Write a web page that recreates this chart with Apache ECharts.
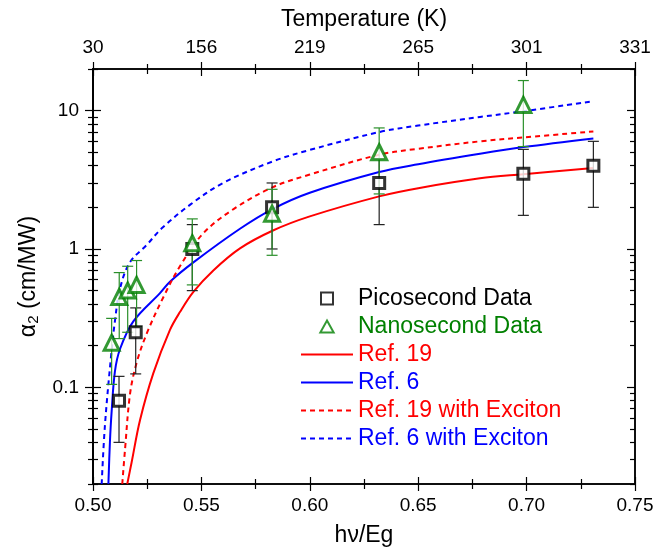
<!DOCTYPE html>
<html>
<head>
<meta charset="utf-8">
<script src="https://cdn.jsdelivr.net/npm/echarts@6/dist/echarts.min.js"></script>
<style>html,body{margin:0;padding:0;background:#fff}#c{width:668px;height:552px}</style>
</head>
<body>
<div id="c"></div>
<script>
// ---- data ----
const xTickLabels = ['0.50','0.55','0.60','0.65','0.70','0.75'];
const tempLabels = ['30','156','219','265','301','331'];
const yMajorTicks = [0.1, 1, 10];
const yMinorTicks = [0.02,0.03,0.04,0.05,0.06,0.07,0.08,0.09,0.2,0.3,0.4,0.5,0.6,0.7,0.8,0.9,2,3,4,5,6,7,8,9,20];

const psX  = [0.512, 0.5197, 0.5458, 0.5826, 0.632, 0.6985, 0.7308];
const psY  = [0.08, 0.25, 1.0, 2.0, 3.0, 3.5, 4.0];
const psLo = [0.04, 0.125, 0.5, 1.0, 1.5, 1.75, 2.0];
const psHi = [0.12, 0.375, 1.5, 3.0, 4.5, 5.25, 6.0];

const nsX  = [0.5086, 0.5121, 0.516, 0.5201, 0.5458, 0.5826, 0.632, 0.6985];
const nsY  = [0.21, 0.45, 0.5, 0.55, 1.1, 1.8, 5.0, 11];
const nsLo = [0.105, 0.225, 0.25, 0.275, 0.55, 0.9, 2.5, 5.5];
const nsHi = [0.315, 0.675, 0.75, 0.825, 1.65, 2.7, 7.5, 16.5];

const ref19 = [[0.5158,0.02],[0.5178,0.0286],[0.5217,0.058],[0.5278,0.126],[0.5355,0.26],[0.5401,0.35],[0.5463,0.49],[0.5555,0.70],[0.5678,1.01],[0.583,1.36],[0.60,1.72],[0.632,2.4],[0.65,2.75],[0.6785,3.24],[0.6985,3.47],[0.7308,3.85]];
const ref6 = [[0.5071,0.02],[0.5078,0.04],[0.5086,0.067],[0.5101,0.13],[0.5125,0.19],[0.5186,0.30],[0.5309,0.48],[0.5355,0.58],[0.5463,0.80],[0.5678,1.4],[0.583,1.95],[0.60,2.55],[0.632,3.6],[0.65,4.1],[0.6785,4.88],[0.6985,5.45],[0.7308,6.3]];
const ref19Exc = [[0.5135,0.02],[0.5148,0.036],[0.5171,0.09],[0.5201,0.15],[0.5248,0.245],[0.5325,0.45],[0.5401,0.75],[0.5509,1.3],[0.565,1.95],[0.583,2.8],[0.60,3.45],[0.632,4.8],[0.65,5.3],[0.6785,6.0],[0.6985,6.4],[0.7308,7.07]];
const ref6Exc = [[0.504,0.02],[0.5055,0.053],[0.5082,0.16],[0.5101,0.30],[0.5125,0.52],[0.517,0.8],[0.5248,1.07],[0.5317,1.41],[0.545,2.1],[0.56,3.0],[0.583,4.3],[0.60,5.2],[0.632,7.0],[0.65,7.8],[0.6785,9.0],[0.6985,9.9],[0.7308,11.7]];

// ---- chart ----
const FONT = "'Liberation Sans', Arial, sans-serif";
const chart = echarts.init(document.getElementById('c'));

function xAx(pos, inside, labels, name) {
  return {
    type: 'value', position: pos, min: 0.5, max: 0.75, interval: 0.05,
    splitLine: {show: false},
    axisLine: {show: true, onZero: false, lineStyle: {color: '#000', width: 1.5}},
    axisTick: {show: true, inside: inside, length: 7, lineStyle: {color: '#000', width: 1.2}},
    minorTick: {show: true, splitNumber: 2, length: 5, lineStyle: {color: '#000', width: 1.2}},
    minorSplitLine: {show: false},
    axisLabel: labels ? {show: true, margin: 12, fontSize: 19, color: '#000', fontFamily: FONT,
      formatter: v => labels[Math.round((v - 0.5) / 0.05)]} : {show: false},
    name: name || '', nameLocation: 'middle', nameGap: pos === 'bottom' ? 40 : 38,
    nameTextStyle: {fontSize: 23, color: '#000', fontFamily: FONT}
  };
}
function yAx(pos, inside, ticks, len, labels, name) {
  return {
    type: 'log', logBase: 10, position: pos, min: 0.02, max: 20,
    splitLine: {show: false},
    axisLine: {show: true, onZero: false, lineStyle: {color: '#000', width: 1.5}},
    axisTick: {show: true, inside: inside, length: len, customValues: ticks, lineStyle: {color: '#000', width: 1.2}},
    minorTick: {show: false},
    axisLabel: labels ? {show: true, margin: 14, fontSize: 19, color: '#000', fontFamily: FONT,
      customValues: labels, formatter: v => String(v)} : {show: false},
    name: name || '', nameLocation: 'middle', nameGap: 50,
    nameTextStyle: {color: '#000', fontFamily: FONT, rich: {
      a: {fontSize: 23, fontFamily: FONT, color: '#000'},
      b: {fontSize: 15, fontFamily: FONT, color: '#000', verticalAlign: 'bottom', padding: [12, 0, 0, 0]}
    }}
  };
}

const errRender = (color) => function (params, api) {
  const x = api.value(0), lo = api.value(1), hi = api.value(2);
  const pTop = api.coord([x, hi]);
  const pBot = api.coord([x, lo]);
  const w = 5.5;
  const st = {stroke: color, lineWidth: 1.2};
  return {type: 'group', children: [
    {type: 'line', shape: {x1: pTop[0], y1: pTop[1], x2: pBot[0], y2: pBot[1]}, style: st},
    {type: 'line', shape: {x1: pTop[0] - w, y1: pTop[1], x2: pTop[0] + w, y2: pTop[1]}, style: st},
    {type: 'line', shape: {x1: pBot[0] - w, y1: pBot[1], x2: pBot[0] + w, y2: pBot[1]}, style: st}
  ]};
};

const lineSeries = (name, data, color, dashed) => ({
  name, type: 'line', data, xAxisIndex: 0, yAxisIndex: 0, symbol: 'none', showSymbol: false,
  smooth: 0.35,
  clip: true, z: 2,
  lineStyle: {color, width: 2, type: dashed ? [5, 4] : 'solid'},
  itemStyle: {color}
});

const lineLegend = (name, color) => ({name, textStyle: {color}, itemStyle: {opacity: 0}});

const option = {
  animation: false,
  backgroundColor: '#fff',
  grid: {left: 93, right: 33, top: 69, bottom: 63, containLabel: false},
  xAxis: [
    xAx('bottom', false, xTickLabels, 'hν/Eg'),
    xAx('bottom', true, null),
    xAx('top', false, tempLabels, 'Temperature (K)'),
    xAx('top', true, null)
  ],
  yAxis: [
    yAx('left', false, yMajorTicks, 8, yMajorTicks, '{a|α}{b|2}{a| (cm/MW)}'),
    yAx('left', false, yMinorTicks, 5, null),
    yAx('left', true, yMajorTicks, 8, null),
    yAx('left', true, yMinorTicks, 5, null),
    yAx('right', true, yMajorTicks, 8, null),
    yAx('right', true, yMinorTicks, 5, null)
  ],
  legend: {
    orient: 'vertical', left: 295, top: 282, itemWidth: 52, itemHeight: 12, itemGap: 5,
    symbolKeepAspect: true,
    textStyle: {fontSize: 23, fontFamily: FONT, lineHeight: 23},
    data: [
      {name: 'Picosecond Data', textStyle: {color: '#000'}, icon: 'path://M0,0L10,0L10,10L0,10Z'},
      {name: 'Nanosecond Data', textStyle: {color: '#008000'}, icon: 'path://M5,0L10,9L0,9Z'},
      lineLegend('Ref. 19', '#ff0000'),
      lineLegend('Ref. 6', '#0000ff'),
      lineLegend('Ref. 19 with Exciton', '#ff0000'),
      lineLegend('Ref. 6 with Exciton', '#0000ff')
    ]
  },
  series: [
    lineSeries('Ref. 19', ref19, '#ff0000', false),
    lineSeries('Ref. 6', ref6, '#0000ff', false),
    lineSeries('Ref. 19 with Exciton', ref19Exc, '#ff0000', true),
    lineSeries('Ref. 6 with Exciton', ref6Exc, '#0000ff', true),
    {
      name: 'psErr', type: 'custom', xAxisIndex: 0, yAxisIndex: 0, z: 3,
      renderItem: errRender('#222'),
      encode: {x: 0, y: [1, 2]},
      data: psX.map((x, i) => [x, psLo[i], psHi[i]])
    },
    {
      name: 'nsErr', type: 'custom', xAxisIndex: 0, yAxisIndex: 0, z: 3,
      renderItem: errRender('#2a8f2a'),
      encode: {x: 0, y: [1, 2]},
      data: nsX.map((x, i) => [x, nsLo[i], nsHi[i]])
    },
    {
      name: 'Picosecond Data', type: 'scatter', xAxisIndex: 0, yAxisIndex: 0, z: 5,
      symbol: 'rect', symbolSize: 11,
      itemStyle: {color: '#fff', borderColor: '#000', borderWidth: 3},
      data: psX.map((x, i) => [x, psY[i]])
    },
    {
      name: 'Nanosecond Data', type: 'scatter', xAxisIndex: 0, yAxisIndex: 0, z: 5,
      symbol: 'triangle', symbolSize: 15,
      itemStyle: {color: '#fff', borderColor: '#008000', borderWidth: 3},
      data: nsX.map((x, i) => [x, nsY[i]])
    }
  ]
};
chart.setOption(option);
</script>
</body>
</html>
